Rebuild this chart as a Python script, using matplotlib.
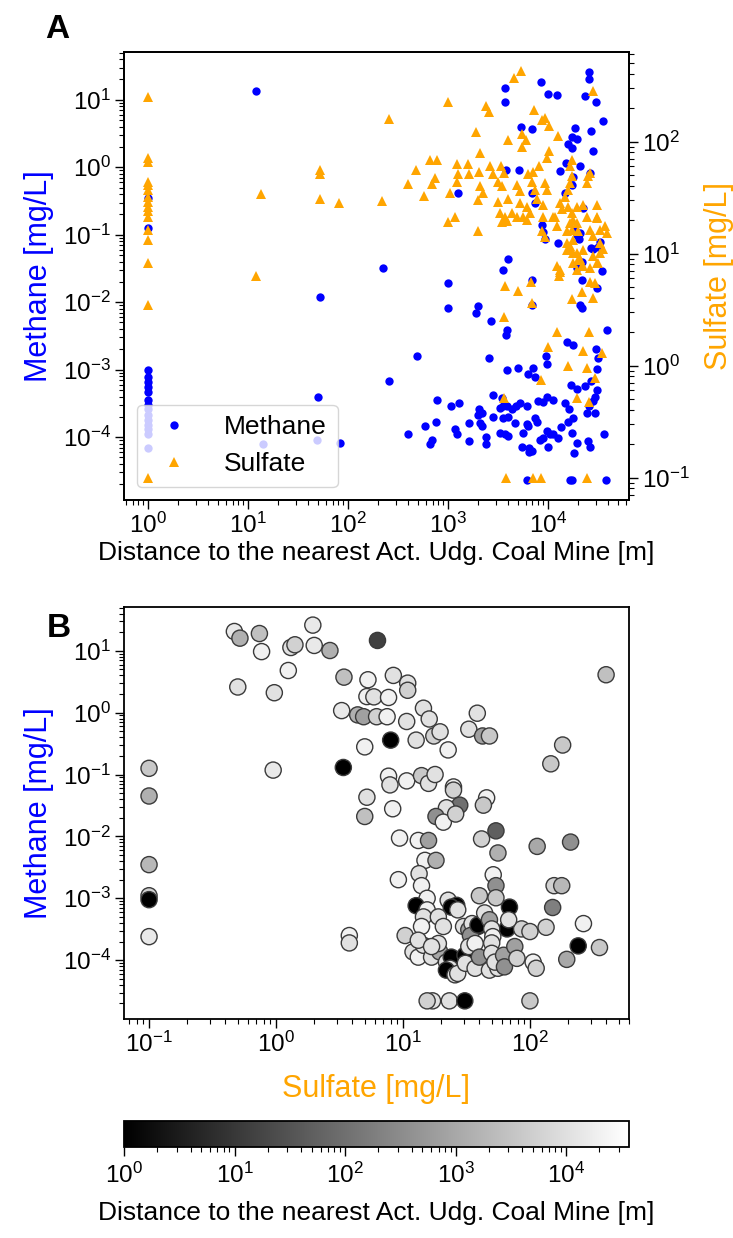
import numpy as np
import matplotlib
matplotlib.use("Agg")
import matplotlib.pyplot as plt
from matplotlib.colors import LogNorm
from matplotlib.lines import Line2D

plt.rcParams['font.family'] = ['Liberation Sans', 'DejaVu Sans']
plt.rcParams['mathtext.fontset'] = 'custom'
plt.rcParams['mathtext.rm'] = 'Liberation Sans'
plt.rcParams['mathtext.it'] = 'Liberation Sans:italic'
plt.rcParams['mathtext.bf'] = 'Liberation Sans:bold'

# ---------------- Panel A: methane vs distance ----------------
methane_dist = [
    1, 1, 1, 1, 1, 1, 1, 1, 1, 1, 1, 1, 1, 1, 1, 1,
    12, 53, 50, 14, 49, 83,
    3700, 3700, 8500, 10000, 12300, 25700, 25700, 23400, 30200, 35500,
    26900, 28200, 5370, 6920, 18600, 17400, 15800, 17400, 19500, 15100,
    20900, 5130, 3800, 13200, 17800, 26300, 1260, 6920, 7410, 8710,
    8910, 9330, 12600, 19500, 20400, 22400, 26900, 28200, 33100, 17400,
    14800, 19500, 21900, 34700, 3980, 3550, 224, 18600, 20900, 31600,
    21900,
    1000, 1000, 2000, 1900, 2690, 3890, 3800, 490, 257, 2570,
    3890, 5010, 7080, 6310, 7410, 9550, 9770, 6920, 6920, 20900,
    21900, 30900, 38900, 15500, 17800, 30200, 31600, 30900, 17000, 19500,
    23400, 26900, 30900, 29500, 28200, 24500, 29500, 25700, 14800, 16200,
    17800, 15800, 36300, 17400, 19500, 18200, 25100, 26300, 13500, 12600,
    11200, 9770, 8910, 10000, 8320, 10500, 7410, 7760, 6310, 9770,
    11200, 7940, 8910, 6170, 5250, 4790, 4370, 3310, 3550, 3890,
    2820, 3550, 3980, 3470, 2820, 2040, 2190, 2000, 2090, 2190,
    1620, 1290, 1070, 776, 759, 589, 398, 692, 661, 1175,
    1230, 1620, 2400, 2400, 3310, 3720, 3980, 4680, 5620, 6170,
    5500, 6460, 6920, 6460, 6170, 16600, 17400, 38000,
]
methane_val = [
    1.0e-3, 7.9e-4, 6.6e-4, 5.6e-4, 4.6e-4, 3.6e-4, 3.0e-4, 2.6e-4,
    2.1e-4, 1.8e-4, 1.5e-4, 1.3e-4, 1.1e-4, 7.0e-5, 0.35, 0.126,
    13.5, 0.012, 3.9e-4, 7.8e-5, 9.1e-5, 8.3e-5,
    14.8, 9.4, 18.2, 12.1, 11.9, 25.7, 20.0, 11.2, 9.4, 4.8,
    3.5, 1.76, 3.9, 3.7, 3.8, 2.8, 2.2, 1.9, 2.6, 1.15,
    1.06, 0.91, 0.91, 0.87, 0.72, 0.82, 0.42, 0.42, 0.30, 0.14,
    0.11, 0.085, 0.076, 0.10, 0.085, 0.25, 0.063, 0.062, 0.079, 0.55,
    0.42, 0.032, 0.040, 0.029, 0.044, 0.030, 0.032, 0.117, 0.106, 0.066,
    0.021,
    0.019, 0.0081, 0.0087, 0.0069, 0.0052, 0.0039, 0.0033, 0.0016, 6.9e-4, 0.0015,
    0.0010, 0.00105, 0.00105, 8.7e-4, 7.9e-4, 0.0016, 0.0012, 0.021, 0.0091, 0.0091,
    0.0081, 0.016, 0.0039, 0.0026, 0.0023, 0.0020, 0.0015, 0.00102, 6.0e-4, 5.1e-4,
    5.8e-4, 6.8e-4, 5.0e-4, 3.9e-4, 3.4e-4, 2.3e-4, 2.3e-4, 2.9e-4, 3.2e-4, 2.6e-4,
    1.9e-4, 1.7e-4, 1.1e-4, 1.15e-4, 8.3e-5, 5.8e-5, 8.7e-5, 7.2e-5, 1.4e-4, 9.8e-5,
    1.1e-4, 1.23e-4, 9.8e-5, 7.2e-5, 9.1e-5, 1.1e-4, 1.9e-4, 1.7e-4, 1.45e-4, 4.0e-4,
    3.6e-4, 3.4e-4, 3.3e-4, 2.9e-4, 3.2e-4, 2.9e-4, 2.6e-4, 2.7e-4, 2.9e-4, 2.9e-4,
    2.0e-4, 1.9e-4, 2.0e-4, 3.8e-4, 4.2e-4, 2.6e-4, 2.3e-4, 2.1e-4, 1.6e-4, 1.45e-4,
    1.6e-4, 3.2e-4, 2.9e-4, 3.5e-4, 1.7e-4, 1.45e-4, 1.12e-4, 9.1e-5, 7.9e-5, 1.3e-4,
    1.1e-4, 8.9e-5, 1.02e-4, 7.8e-5, 1.15e-4, 1.1e-4, 1.05e-4, 1.6e-4, 1.15e-4, 1.55e-4,
    7.2e-5, 6.9e-5, 6.2e-5, 6.0e-5, 2.3e-5, 2.3e-5, 2.3e-5, 2.3e-5,
]

# ---------------- Panel A: sulfate vs distance ----------------
sulfate_dist = [
    1, 1, 1, 1, 1, 1, 1, 1, 1, 1, 1, 1, 1, 1, 1, 1,
    13.5, 12, 52, 52, 52, 82, 218, 259,
    1000, 2400, 2570, 1900, 2080, 657, 775, 480, 400, 580,
    690, 741, 1230, 1590, 1270, 1620, 1240, 1050, 2030, 2630,
    2840, 2090, 2250, 1990, 1010, 1170, 1990, 3970, 4570, 5360,
    7240, 8700, 9330, 10200, 5480, 6030, 5480, 12700, 10300, 9740,
    8170, 3370, 3590, 3190, 3450, 4870, 5250, 6350, 7130, 6880,
    7410, 9330, 9700, 3190, 4000, 5250, 6120, 6610, 5650, 3310,
    3720, 4340, 4870, 3450, 3870, 6120, 7700, 8950, 8950, 11300,
    8700, 9330, 11700, 12200, 13200, 13700, 14800, 15900, 16600, 17300,
    16600, 17300,
    15850, 17380, 19500, 17780, 16600, 19500, 15490, 17380, 19950,
    25100, 24500, 26300, 28400, 22500, 30700, 24500, 30900,
    15500, 16600, 17800, 19500, 20900, 22400,
    26300, 28200, 33100, 37200, 38900, 33100, 35500, 28200, 30900, 26300, 22400,
    12300, 13200, 17800, 19500,
    3720, 5040, 6760, 6880, 3630, 12400, 25900, 9900, 22500, 34900,
    15800, 24300, 8500, 29500, 19400, 25900, 3630,
    12900, 13200, 17400, 21900, 28200, 29500, 26300, 33100, 31600,
    30900, 17800, 20000, 21900, 15500, 16600,
    3800, 7100, 8500, 24500,
]
sulfate_val = [
    252, 72, 66, 44, 41, 37, 32, 29, 26, 24, 21, 16.4, 13.3, 8.3, 3.5, 0.1,
    33.7, 6.3, 56, 51, 31, 28.5, 29.3, 159,
    224, 207, 185, 121, 79, 68, 68, 56, 42, 33,
    42, 47, 63, 63, 51, 51, 44, 35, 53, 60,
    51, 40, 35, 30, 19, 21, 16, 104, 370, 425,
    193, 155, 163, 139, 117, 104, 90, 113, 83, 72,
    61, 60, 52, 44, 40, 41, 36, 51, 54, 44,
    37, 43, 37, 29, 31, 28, 26, 23, 21, 23,
    21, 23, 21, 19, 19.5, 20, 31, 27, 21, 21,
    16, 14, 21, 17.5, 28, 25, 32, 37, 43, 69,
    60, 49,
    26.3, 22.9, 26.3, 20, 18.6, 18.6, 15.8, 16.2, 15.8,
    49, 43, 52.5, 281, 27, 27, 21.4, 20.9,
    12.4, 10.8, 13.3, 10.1, 8.9, 10.8,
    16.4, 14.3, 16.4, 17.5, 15.3, 12.4, 10.9, 9.5, 8.3, 7.4, 7.7,
    7.8, 6.9, 8.3, 7.2,
    5.1, 4.6, 5.6, 3.6, 2.7, 2.0, 2.0, 1.45, 1.35, 1.3,
    0.99, 0.95, 0.75, 0.78, 0.51, 0.47, 0.51,
    6.3, 7.2, 3.9, 4.5, 4.0, 5.5, 5.6, 10.1, 8.2,
    21.4, 10.1, 8.8, 7.7, 10.8, 11.6,
    0.1, 0.1, 0.1, 0.1,
]

# ---------------- Panel B: methane vs sulfate, coloured by distance ----------------
b_sulfate = [
    0.1, 0.1, 0.1, 0.1, 0.1, 0.1, 0.47, 0.52, 0.74, 0.77,
    0.50, 0.97, 0.95, 1.25, 1.31, 1.41, 1.95, 2.0, 2.66, 3.43,
    3.29, 4.4, 4.9, 3.39, 5.0, 5.3, 5.2, 5.2, 5.0, 3.78,
    3.78, 6.3, 398, 8.4, 10.9, 10.9, 5.9, 7.7, 6.2, 7.5,
    10.7, 14.5, 16.1, 17.5, 19.6, 12.7, 8.0, 22.7, 38.5, 33,
    42.4, 48, 181, 146, 7.7, 7.9, 10.7, 14, 15.9, 17.9,
    25, 25, 8.3, 28, 22, 18.2, 20.8, 26, 45.6, 43,
    54, 41.6, 56, 114, 209, 9.4, 13.2, 15.9, 14.9, 18.2,
    9.2, 13.4, 14, 15.5, 51.4, 54, 155, 178, 151, 12.7,
    69, 66, 39, 264, 240, 353, 195, 134, 86, 100,
    106, 112, 10.4, 17.1, 15.5, 23.2, 30.7, 100,
    54, 40, 22.7, 26.5, 24, 27, 15.5, 14.5, 14, 19,
    20.8, 30, 33, 35, 34, 39, 44, 48, 50, 51,
    50, 68, 12, 13.2, 14.5, 16.8, 19.5, 19, 22, 24,
    23.5, 22, 30.8, 25.7, 27, 31, 37, 33, 37, 40,
    48, 56, 50, 53, 62, 63, 76, 79, 13.2, 16.8,
]
b_methane = [
    0.126, 0.045, 0.0035, 0.0011, 0.00095, 2.4e-4, 20.5, 16, 19, 9.7,
    2.6, 2.1, 0.118, 4.8, 11.3, 12.5, 26, 12.2, 10.1, 3.75,
    1.08, 0.92, 0.86, 0.13, 0.28, 3.4, 1.82, 0.043, 0.021, 2.5e-4,
    1.9e-4, 14.7, 4.1, 4.0, 3.0, 2.3, 1.8, 1.76, 0.86, 0.86,
    0.72, 1.18, 0.79, 0.42, 0.49, 0.36, 0.36, 0.25, 0.98, 0.54,
    0.42, 0.42, 0.30, 0.149, 0.094, 0.068, 0.079, 0.096, 0.072, 0.10,
    0.063, 0.056, 0.028, 0.032, 0.029, 0.021, 0.017, 0.023, 0.042, 0.032,
    0.0123, 0.0091, 0.0054, 0.0069, 0.0081, 0.0094, 0.0086, 0.0086, 0.0041, 0.0041,
    0.0020, 0.0025, 0.0016, 0.0010, 0.0024, 0.0016, 0.0016, 0.0016, 7.1e-4, 7.6e-4,
    7.2e-4, 3.2e-4, 3.5e-4, 3.9e-4, 1.7e-4, 1.6e-4, 1.03e-4, 3.4e-4, 3.2e-4, 2.9e-4,
    9.3e-5, 7.4e-5, 2.5e-4, 2.2e-5, 2.2e-5, 2.2e-5, 2.2e-5, 2.2e-5,
    1.02e-3, 1.1e-3, 9.3e-4, 7.7e-4, 7.2e-4, 6.5e-4, 6.5e-4, 5.0e-4, 3.5e-4, 5.0e-4,
    3.5e-4, 3.5e-4, 3.1e-4, 3.9e-4, 2.5e-4, 3.7e-4, 5.8e-4, 4.5e-4, 3.2e-4, 2.4e-4,
    1.9e-4, 4.5e-4, 1.36e-4, 1.12e-4, 1.74e-4, 1.12e-4, 1.36e-4, 1.86e-4, 9.3e-5, 1.12e-4,
    7.4e-5, 6.9e-5, 1.2e-4, 5.8e-5, 6.1e-5, 8.9e-5, 7.4e-5, 1.66e-4, 1.86e-4, 1.12e-4,
    6.9e-5, 7.4e-5, 1.29e-4, 9.3e-5, 1.2e-4, 7.8e-5, 1.66e-4, 1.07e-4, 2.1e-4, 1.66e-4,
]
b_distance = [
    3800, 1400, 2000, 5400, 1, 14500, 14500, 1400, 2700, 20000,
    10500, 10500, 14500, 20000, 10500, 5400, 14500, 14500, 1400, 2700,
    14500, 1400, 740, 1, 20000, 20000, 20000, 10500, 2700, 20000,
    10500, 14, 2700, 10500, 10500, 5400, 10500, 20000, 5400, 20000,
    10500, 10500, 10500, 5400, 10500, 10500, 1, 20000, 10500, 10500,
    740, 3800, 3800, 3800, 20000, 10500, 20000, 3800, 10500, 10500,
    20000, 5400, 20000, 100, 10500, 380, 20000, 5400, 20000, 3800,
    50, 5400, 1400, 1000, 380, 20000, 20000, 740, 20000, 1400,
    20000, 10500, 20000, 20000, 20000, 380, 5400, 2000, 190, 1,
    1, 1, 1, 20000, 1, 3800, 1000, 5400, 5400, 5400,
    20000, 5400, 5400, 10500, 5400, 10500, 1, 3800,
    3800, 3800, 10500, 1, 1, 10500, 20000, 10500, 20000, 10500,
    10500, 10500, 740, 10500, 380, 1, 10500, 740, 10500, 20000,
    10500, 10500, 10500, 20000, 10500, 10500, 1000, 10500, 10500, 1,
    10500, 1, 1, 10500, 10500, 10500, 10500, 10500, 20000, 380,
    10500, 10500, 10500, 10500, 740, 380, 740, 5400, 10500, 10500,
]

dist_ticks = [1, 10, 100, 1000, 10000]
dist_max = 37000

blue = '#0000ff'
orange = '#ffa500'
tick_fs = 17.5

fig = plt.figure(figsize=(7.33, 12.38), dpi=100)


def style_axis(ax):
    for s in ax.spines.values():
        s.set_linewidth(1.3)
    ax.tick_params(which='major', length=6.5, width=1.0, labelsize=tick_fs, pad=3)
    ax.tick_params(which='minor', length=3.5, width=0.8)


# Panel A
ax1 = fig.add_axes([124 / 733, 1 - 500 / 1238, 505 / 733, 448 / 1238])
ax1.plot(methane_dist, methane_val, 'o', color=blue, ms=6, mew=0, zorder=2)
ax1.set_xscale('log')
ax1.set_yscale('log')
ax1.set_xlim(0.575, 64600)
ax1.set_ylim(1.17e-5, 51)
ax1.set_xticks(dist_ticks)
ax1.set_yticks([1e-4, 1e-3, 1e-2, 1e-1, 1, 10])
ax1.set_ylabel('Methane [mg/L]', color=blue, fontsize=22, labelpad=6)
ax1.set_xlabel('Distance to the nearest Act. Udg. Coal Mine [m]', fontsize=19, labelpad=2)
style_axis(ax1)

ax2 = ax1.twinx()
ax2.plot(sulfate_dist, sulfate_val, '^', color=orange, ms=7, mew=0, zorder=2)
ax2.set_yscale('log')
ax2.set_ylim(0.063, 631)
ax2.set_yticks([0.1, 1, 10, 100])
ax2.set_ylabel('Sulfate [mg/L]', color=orange, fontsize=22, labelpad=10)
style_axis(ax2)

handles = [Line2D([], [], ls='none', marker='o', color=blue, ms=6, mew=0),
           Line2D([], [], ls='none', marker='^', color=orange, ms=7, mew=0)]
ax1.legend(handles, ['Methane', 'Sulfate'], loc='lower left', fontsize=19,
           handletextpad=0.9)

fig.text(45 / 733, 1 - 38 / 1238, 'A', fontsize=24, fontweight='bold', va='baseline')

# Panel B
axb = fig.add_axes([124 / 733, 1 - 1019 / 1238, 505 / 733, 412 / 1238])
norm = LogNorm(vmin=1, vmax=dist_max)
sc = axb.scatter(b_sulfate, b_methane, c=b_distance, cmap='gray', norm=norm,
                 s=135, edgecolors='#3a3a3a', linewidths=1.0)
axb.set_xscale('log')
axb.set_yscale('log')
axb.set_xlim(0.0635, 603)
axb.set_ylim(1.12e-5, 51)
axb.set_xticks([0.1, 1, 10, 100])
axb.set_yticks([1e-4, 1e-3, 1e-2, 1e-1, 1, 10])
axb.set_xlabel('Sulfate [mg/L]', color=orange, fontsize=22, labelpad=12)
axb.set_ylabel('Methane [mg/L]', color=blue, fontsize=22, labelpad=6)
style_axis(axb)

fig.text(47 / 733, 1 - 637 / 1238, 'B', fontsize=24, fontweight='bold', va='baseline')

cax = fig.add_axes([124 / 733, 1 - 1147 / 1238, 505 / 733, 26 / 1238])
cb = fig.colorbar(sc, cax=cax, orientation='horizontal')
cb.set_ticks(dist_ticks)
cb.outline.set_linewidth(1.3)
cax.tick_params(which='major', length=6.5, width=1.0, labelsize=tick_fs, pad=5)
cax.tick_params(which='minor', length=3.5, width=0.8)
cb.set_label('Distance to the nearest Act. Udg. Coal Mine [m]', fontsize=19, labelpad=9)

fig.savefig('out.png', dpi=100)
